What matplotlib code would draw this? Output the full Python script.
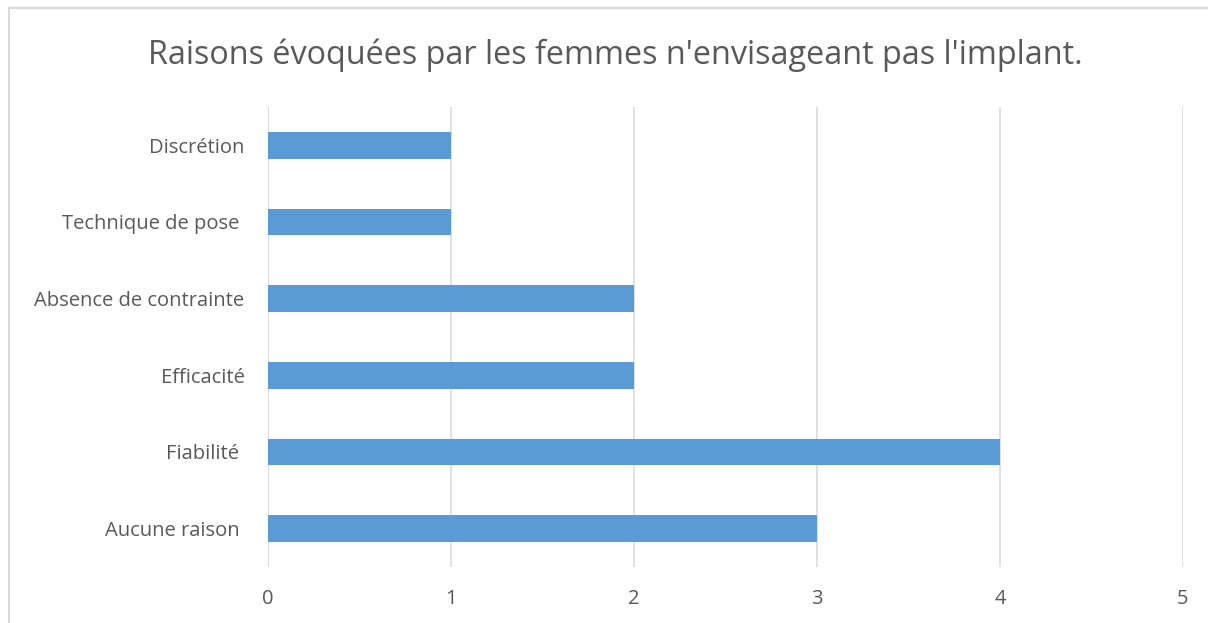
import matplotlib.pyplot as plt
from matplotlib.patches import Rectangle

# Data (bottom to top as drawn)
categories = ['Aucune raison ', 'Fiabilité ', 'Efficacité', 'Absence de contrainte',
              'Technique de pose ', 'Discrétion']
values = [3, 4, 2, 2, 1, 1]
xticks = [0, 1, 2, 3, 4, 5]

plt.rcParams['font.family'] = ['Open Sans', 'DejaVu Sans']

fig = plt.figure(figsize=(12.08, 6.23), dpi=100)
ax = fig.add_axes([0.2219, 0.0899, 0.7574, 0.7384])

ax.barh(range(len(categories)), values, height=0.35, color='#5b9bd5', zorder=3)
ax.set_ylim(-0.5, len(categories) - 0.5)
ax.set_xlim(0, 5)
ax.set_xticks(xticks)
ax.set_yticks(range(len(categories)))
ax.set_yticklabels(categories)

ax.grid(True, axis='x', color='#d9d9d9', linewidth=1.1, zorder=0)
for s in ax.spines.values():
    s.set_visible(False)
ax.tick_params(axis='both', length=0, labelsize=14.5, labelcolor='#595959')
ax.tick_params(axis='y', pad=17)
ax.tick_params(axis='x', pad=16)
ax.axvline(0, color='#d9d9d9', linewidth=1.1, zorder=1)

fig.text(0.509, 0.912, "Raisons évoquées par les femmes n'envisageant pas l'implant.",
         ha='center', va='center', fontsize=23.3, color='#595959')

# outer chart border
fig.patches.append(Rectangle((9 / 1208, -0.1), 1.2, (615 / 623) + 0.1,
                             transform=fig.transFigure, fill=False,
                             edgecolor='#d9d9d9', linewidth=1.5))

fig.savefig('out.png', dpi=100)
